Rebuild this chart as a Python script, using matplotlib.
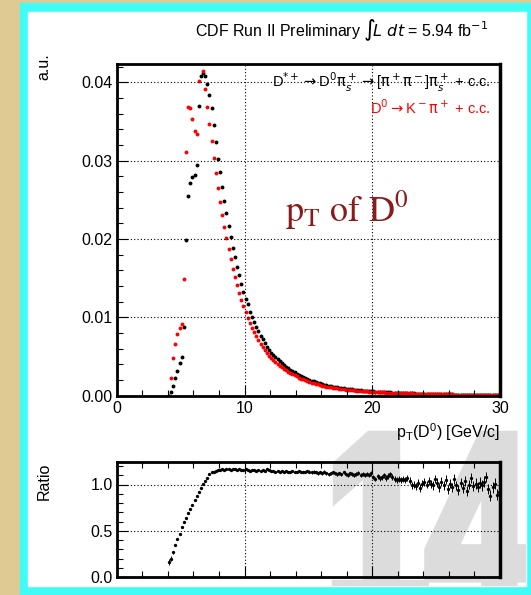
import numpy as np
import matplotlib
matplotlib.use('Agg')
import matplotlib.pyplot as plt
from matplotlib.patches import Rectangle, PathPatch
from matplotlib.textpath import TextPath
from matplotlib.font_manager import FontProperties
from matplotlib.transforms import Affine2D
from matplotlib.ticker import MultipleLocator, FormatStrFormatter

plt.rcParams['font.family'] = ['Liberation Sans', 'DejaVu Sans']
plt.rcParams['mathtext.fontset'] = 'custom'
plt.rcParams['mathtext.rm'] = 'Liberation Sans'
plt.rcParams['mathtext.it'] = 'Liberation Sans:italic'
plt.rcParams['mathtext.bf'] = 'Liberation Sans:bold'

# 180 bins of 1/6 GeV/c between 0 and 30 GeV/c, filled from bin 24 (4.0 GeV/c) on
pt_edges = np.linspace(0, 30, 181)
first_bin = 24

# D*+ -> D0 pi_s -> [pi pi] pi_s (black), normalised
dstar_rate = [
    0.00000, 0.00042, 0.00126, 0.00229, 0.00318, 0.00412,
    0.00489, 0.00880, 0.01987, 0.02549, 0.02711, 0.02796,
    0.02821, 0.02941, 0.03702, 0.04082, 0.04120, 0.04082,
    0.03984, 0.03843, 0.03673, 0.03452, 0.03243, 0.03026,
    0.02860, 0.02660, 0.02490, 0.02330, 0.02170, 0.02030,
    0.01890, 0.01770, 0.01642, 0.01536, 0.01425, 0.01327,
    0.01238, 0.01166, 0.01072, 0.01004, 0.00944, 0.00880,
    0.00829, 0.00761, 0.00719, 0.00668, 0.00625, 0.00582,
    0.00550, 0.00520, 0.00491, 0.00464, 0.00439, 0.00415,
    0.00392, 0.00371, 0.00351, 0.00332, 0.00314, 0.00297,
    0.00281, 0.00266, 0.00251, 0.00238, 0.00225, 0.00213,
    0.00202, 0.00191, 0.00181, 0.00172, 0.00163, 0.00155,
    0.00147, 0.00140, 0.00133, 0.00127, 0.00121, 0.00115,
    0.00110, 0.00105, 0.00100, 0.00096, 0.00092, 0.00088,
    0.00084, 0.00081, 0.00078, 0.00075, 0.00072, 0.00069,
    0.00066, 0.00064, 0.00062, 0.00060, 0.00057, 0.00055,
    0.00053, 0.00051, 0.00049, 0.00048, 0.00046, 0.00044,
    0.00043, 0.00041, 0.00040, 0.00038, 0.00037, 0.00036,
    0.00034, 0.00033, 0.00032, 0.00031, 0.00030, 0.00029,
    0.00028, 0.00027, 0.00026, 0.00025, 0.00024, 0.00024,
    0.00023, 0.00022, 0.00021, 0.00021, 0.00020, 0.00019,
    0.00019, 0.00018, 0.00017, 0.00017, 0.00016, 0.00016,
    0.00015, 0.00015, 0.00014, 0.00014, 0.00013, 0.00013,
    0.00012, 0.00012, 0.00012, 0.00011, 0.00011, 0.00010,
    0.00010, 0.00010, 0.00009, 0.00009, 0.00009, 0.00008,
    0.00008, 0.00008, 0.00008, 0.00007, 0.00007, 0.00007,
]

# D0 -> K pi (red), normalised
d0_rate = [
    0.00000, 0.00221, 0.00476, 0.00659, 0.00783, 0.00863,
    0.00914, 0.01485, 0.03115, 0.03690, 0.03669, 0.03533,
    0.03379, 0.03337, 0.04018, 0.04248, 0.04142, 0.03920,
    0.03690, 0.03465, 0.03255, 0.03031, 0.02839, 0.02651,
    0.02477, 0.02303, 0.02149, 0.02009, 0.01868, 0.01745,
    0.01620, 0.01511, 0.01409, 0.01310, 0.01217, 0.01140,
    0.01068, 0.00991, 0.00927, 0.00867, 0.00812, 0.00761,
    0.00710, 0.00663, 0.00617, 0.00579, 0.00540, 0.00506,
    0.00478, 0.00452, 0.00427, 0.00403, 0.00381, 0.00360,
    0.00340, 0.00322, 0.00305, 0.00288, 0.00273, 0.00258,
    0.00244, 0.00231, 0.00218, 0.00207, 0.00196, 0.00185,
    0.00176, 0.00166, 0.00158, 0.00150, 0.00142, 0.00135,
    0.00128, 0.00122, 0.00116, 0.00111, 0.00106, 0.00101,
    0.00096, 0.00092, 0.00088, 0.00084, 0.00081, 0.00077,
    0.00074, 0.00071, 0.00069, 0.00066, 0.00064, 0.00061,
    0.00059, 0.00057, 0.00055, 0.00053, 0.00051, 0.00050,
    0.00048, 0.00046, 0.00045, 0.00043, 0.00042, 0.00041,
    0.00039, 0.00038, 0.00037, 0.00036, 0.00035, 0.00034,
    0.00033, 0.00032, 0.00031, 0.00030, 0.00029, 0.00028,
    0.00027, 0.00026, 0.00025, 0.00025, 0.00024, 0.00023,
    0.00023, 0.00022, 0.00021, 0.00021, 0.00020, 0.00019,
    0.00019, 0.00018, 0.00017, 0.00017, 0.00016, 0.00016,
    0.00015, 0.00015, 0.00014, 0.00014, 0.00013, 0.00013,
    0.00012, 0.00012, 0.00012, 0.00011, 0.00011, 0.00010,
    0.00010, 0.00010, 0.00009, 0.00009, 0.00009, 0.00008,
    0.00008, 0.00008, 0.00008, 0.00007, 0.00007, 0.00007,
]

# ratio panel
ratio_val = [
    0.16, 0.20, 0.27, 0.35, 0.41, 0.47,
    0.54, 0.60, 0.64, 0.69, 0.74, 0.78,
    0.83, 0.88, 0.92, 0.96, 1.01, 1.04,
    1.07, 1.11, 1.13, 1.14, 1.15, 1.16,
    1.16, 1.17, 1.16, 1.17, 1.17, 1.16,
    1.17, 1.17, 1.16, 1.17, 1.16, 1.16,
    1.17, 1.16, 1.15, 1.16, 1.16, 1.15,
    1.16, 1.15, 1.16, 1.15, 1.17, 1.16,
    1.15, 1.15, 1.14, 1.15, 1.14, 1.15,
    1.14, 1.15, 1.14, 1.14, 1.15, 1.14,
    1.14, 1.15, 1.14, 1.13, 1.14, 1.15,
    1.14, 1.13, 1.14, 1.13, 1.12, 1.13,
    1.12, 1.14, 1.12, 1.11, 1.12, 1.13,
    1.12, 1.11, 1.12, 1.11, 1.13, 1.11,
    1.10, 1.12, 1.11, 1.10, 1.11, 1.12,
    1.10, 1.11, 1.10, 1.11, 1.10, 1.12,
    1.08, 1.06, 1.09, 1.07, 1.08, 1.10,
    1.07, 1.09, 1.11, 1.08, 1.06, 1.05,
    1.06, 1.05, 1.06, 1.05, 1.07, 1.04,
    0.99, 1.00, 0.98, 1.02, 0.96, 1.01,
    1.03, 1.00, 1.04, 1.01, 0.99, 1.06,
    1.02, 0.97, 1.03, 0.99, 1.05, 0.95,
    1.01, 0.97, 1.06, 0.99, 0.94, 1.02,
    0.96, 1.04, 0.93, 1.00, 1.07, 0.98,
    1.01, 0.97, 1.02, 0.99, 1.03, 1.08,
    0.95, 0.88, 0.97, 1.01, 0.89, 0.92,
]
ratio_err = [
    0.030, 0.022, 0.016, 0.012, 0.010, 0.009,
    0.008, 0.007, 0.006, 0.006, 0.005, 0.005,
    0.005, 0.005, 0.005, 0.005, 0.005, 0.005,
    0.005, 0.005, 0.005, 0.005, 0.005, 0.006,
    0.006, 0.006, 0.006, 0.006, 0.006, 0.007,
    0.007, 0.007, 0.007, 0.007, 0.007, 0.007,
    0.007, 0.007, 0.007, 0.007, 0.007, 0.007,
    0.007, 0.007, 0.007, 0.008, 0.008, 0.008,
    0.008, 0.008, 0.008, 0.008, 0.009, 0.009,
    0.009, 0.009, 0.009, 0.010, 0.010, 0.010,
    0.010, 0.010, 0.011, 0.011, 0.011, 0.011,
    0.012, 0.012, 0.012, 0.013, 0.013, 0.013,
    0.014, 0.014, 0.014, 0.015, 0.015, 0.016,
    0.016, 0.016, 0.017, 0.017, 0.018, 0.018,
    0.019, 0.019, 0.020, 0.020, 0.021, 0.021,
    0.022, 0.022, 0.023, 0.023, 0.024, 0.024,
    0.025, 0.026, 0.026, 0.027, 0.028, 0.028,
    0.029, 0.030, 0.030, 0.031, 0.032, 0.032,
    0.033, 0.034, 0.034, 0.035, 0.036, 0.036,
    0.040, 0.040, 0.041, 0.041, 0.042, 0.042,
    0.043, 0.043, 0.044, 0.044, 0.045, 0.045,
    0.046, 0.046, 0.047, 0.047, 0.048, 0.048,
    0.049, 0.049, 0.050, 0.050, 0.051, 0.051,
    0.052, 0.052, 0.053, 0.053, 0.054, 0.054,
    0.055, 0.055, 0.056, 0.056, 0.057, 0.057,
    0.058, 0.058, 0.059, 0.059, 0.060, 0.060,
]

pt_centers = 0.5 * (pt_edges[:-1] + pt_edges[1:])
pt = pt_centers[first_bin:first_bin + len(dstar_rate)]

W, H = 531, 595
fig = plt.figure(figsize=(W / 100, H / 100), dpi=100)

# slide background: parchment, cyan frame, white panel, "14" watermark
bg = fig.add_axes([0, 0, 1, 1])
bg.set_xlim(0, W)
bg.set_ylim(0, H)
bg.axis('off')
bg.add_patch(Rectangle((0, 0), W, H, color='#dfca94'))
bg.add_patch(Rectangle((19.6, 1), W, H - 4.4, color='#40fbf6'))
white = Rectangle((27.8, H - 585.6), 526 - 27.8, 585.6 - 11.9, color='white')
bg.add_patch(white)
tp = TextPath((0, 0), '14', size=100,
              prop=FontProperties(family='Liberation Sans', weight='bold'))
ext = tp.get_extents()
x0, x1 = 338, 528
ytop, ybot = H - 437, H - 612
tr = Affine2D().translate(-ext.x0, -ext.y0).scale((x1 - x0) / ext.width,
                                                  (ytop - ybot) / ext.height).translate(x0, ybot)
wm = PathPatch(tr.transform_path(tp), facecolor='#dcdcdc', edgecolor='#dcdcdc', lw=9)
bg.add_patch(wm)
wm.set_clip_path(white)


def style_axes(ax, top_ticks=False):
    for s in ax.spines.values():
        s.set_linewidth(2)
    ax.spines['right'].set_linewidth(2.5)
    ax.tick_params(which='both', direction='in', top=top_ticks, right=False,
                   labelsize=11.5, width=0.8)
    ax.tick_params(which='major', length=8)
    ax.tick_params(which='minor', length=4.5)
    ax.grid(True, which='major', color='black', linestyle=(0, (1, 2)), linewidth=0.8)
    ax.set_axisbelow(False)


# main panel
ax = fig.add_axes([116.8 / W, 1 - 395.6 / H, (500 - 116.8) / W, (395.6 - 64.3) / H])
ax.plot(pt, dstar_rate, 'o', color='black', markersize=2.8, markeredgewidth=0)
ax.plot(pt, d0_rate, 'o', color='red', markersize=2.8, markeredgewidth=0)
ax.set_xlim(0, 30)
ax.set_ylim(0, 0.0423)
ax.xaxis.set_major_locator(MultipleLocator(10))
ax.xaxis.set_minor_locator(MultipleLocator(2))
ax.yaxis.set_major_locator(MultipleLocator(0.01))
ax.yaxis.set_minor_locator(MultipleLocator(0.002))
ax.yaxis.set_major_formatter(FormatStrFormatter('%.2f'))
style_axes(ax)
ax.tick_params(axis='x', pad=4)
ax.tick_params(axis='y', pad=3)

ax.text(0.975, 0.945,
        r'D$^{*+}\rightarrow$D$^0\mathrm{\pi}_s^+\rightarrow$'
        r'[$\mathrm{\pi}^+\mathrm{\pi}^-$]$\mathrm{\pi}_s^+$ + c.c.',
        math_fontfamily='dejavusans', transform=ax.transAxes,
        ha='right', va='center', fontsize=10.5)
ax.text(0.975, 0.87, r'D$^0\rightarrow$K$^-\mathrm{\pi}^+$ + c.c.', color='red',
        math_fontfamily='dejavusans', transform=ax.transAxes,
        ha='right', va='center', fontsize=10.5)
ax.text(0.60, 0.56, r'$\mathrm{p_T\ of\ D^0}$', math_fontfamily='stix',
        color='#8b1a1a', fontsize=26, transform=ax.transAxes, ha='center', va='center')

fig.text(487.6 / W, 1 - 30.5 / H,
         r'CDF Run II Preliminary $\int\!L\ dt$ = 5.94 fb$^{-1}$',
         math_fontfamily='dejavusans', ha='right', va='center', fontsize=11.5)
fig.text(44 / W, 1 - 53 / H, 'a.u.', rotation=90, ha='center', va='top', fontsize=11.5)
fig.text(500 / W, 1 - 432 / H, r'p$_\mathrm{T}$(D$^0$) [GeV/c]',
         ha='right', va='center', fontsize=11.5)

# ratio panel
rx = fig.add_axes([116.8 / W, 1 - 577 / H, (500 - 116.8) / W, (577 - 462.3) / H])
rx.set_facecolor('none')
rx.errorbar(pt, ratio_val, yerr=ratio_err, fmt='o', color='black', markersize=2.4,
            markeredgewidth=0, elinewidth=0.7, capsize=0)
rx.set_xlim(0, 30)
rx.set_ylim(0, 1.24)
rx.xaxis.set_major_locator(MultipleLocator(10))
rx.xaxis.set_minor_locator(MultipleLocator(2))
rx.yaxis.set_major_locator(MultipleLocator(0.5))
rx.yaxis.set_minor_locator(MultipleLocator(0.1))
rx.yaxis.set_major_formatter(FormatStrFormatter('%.1f'))
style_axes(rx, top_ticks=True)
rx.tick_params(axis='x', labelbottom=False)
rx.tick_params(axis='y', pad=3)
fig.text(44 / W, 1 - 463 / H, 'Ratio', rotation=90, ha='center', va='top', fontsize=11.5)

fig.savefig('out.png', dpi=100)
